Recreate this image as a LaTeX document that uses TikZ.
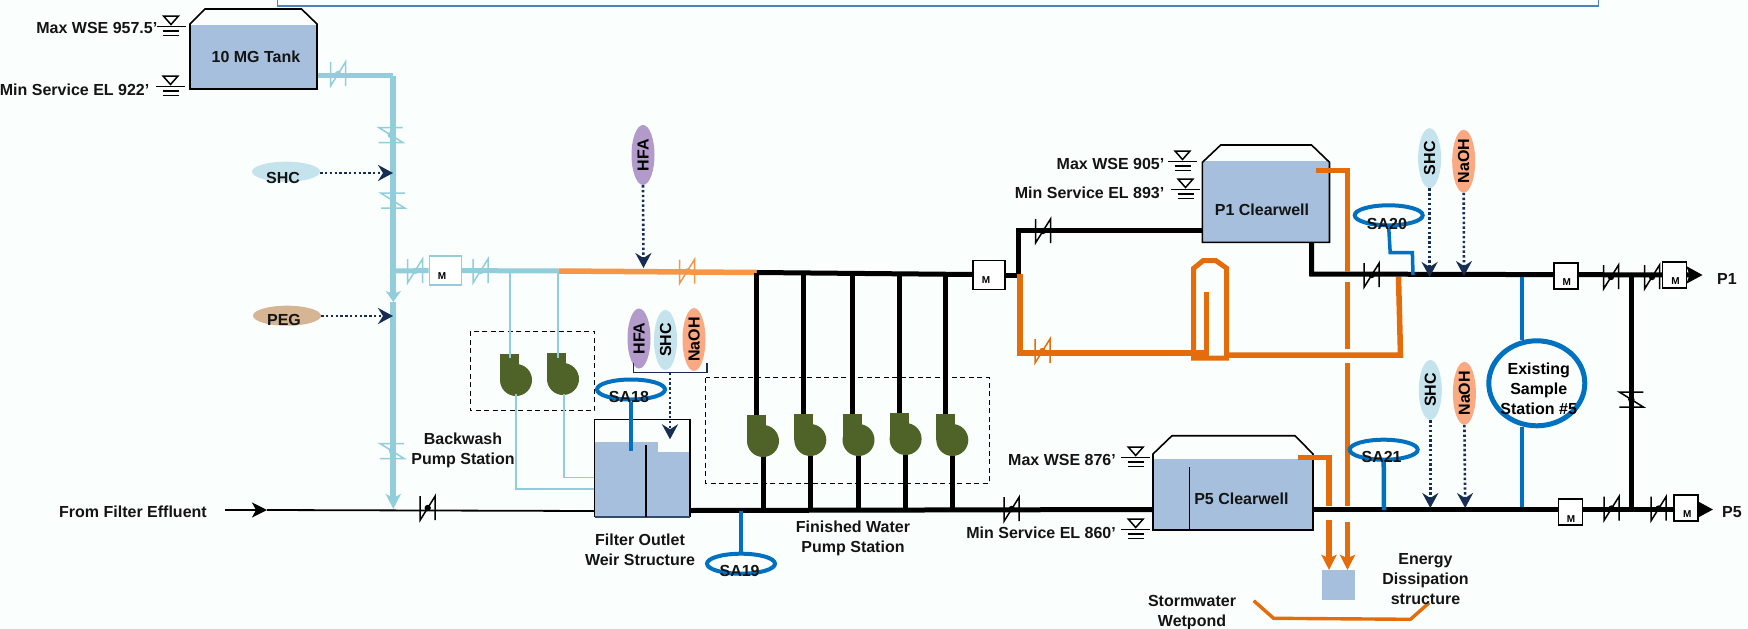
\documentclass[tikz,border=0pt]{standalone}
\usepackage{fontspec}
\setmainfont{Liberation Sans}
\usetikzlibrary{arrows.meta,shapes.geometric}
\definecolor{bgc}{HTML}{FAFFFD}
\definecolor{pipeb}{HTML}{92CDDC}
\definecolor{orl}{HTML}{F79646}
\definecolor{ord}{HTML}{E46C0A}
\definecolor{smp}{HTML}{0070C0}
\definecolor{pmp}{HTML}{4F6228}
\definecolor{wat}{HTML}{A5BFDD}
\definecolor{hfac}{HTML}{B29BCB}
\definecolor{shcc}{HTML}{C5E3EC}
\definecolor{naohc}{HTML}{FAA982}
\definecolor{pegc}{HTML}{D5B594}
\definecolor{navy}{HTML}{172E52}
\definecolor{frame}{HTML}{4F81BD}
\tikzset{
  txt/.style={font=\fontsize{16}{20}\selectfont\bfseries,align=center,inner sep=0pt,text=black!92},
  mtxt/.style={font=\fontsize{10}{10}\selectfont\bfseries,inner sep=0pt},
  mbk/.style={draw=black,fill=white,line width=1.5pt,minimum width=30pt,minimum height=27pt,inner sep=0pt},
  mlb/.style={draw=pipeb,fill=white,line width=1.5pt,minimum width=32pt,minimum height=29pt,inner sep=0pt},
  mnar/.style={draw=black,fill=white,line width=1.5pt,minimum width=24pt,minimum height=26pt,inner sep=0pt},
  lbpipe/.style={draw=pipeb,line width=5pt},
  lbthin/.style={draw=pipeb,line width=1.5pt},
  blk/.style={draw=black,line width=5pt},
  ora/.style={draw=ord,line width=5.5pt},
  orlp/.style={draw=orl,line width=5.5pt},
  smpl/.style={draw=smp,line width=4.5pt},
  chem/.style={ellipse,minimum width=#1,minimum height=23pt,inner sep=0pt,rotate=90,font=\fontsize{16}{18}\selectfont\bfseries},
  flat/.style={ellipse,minimum width=68pt,minimum height=20pt,inner sep=0pt},
  sa/.style={ellipse,draw=smp,line width=4pt,minimum width=68pt,minimum height=20pt,inner sep=0pt},
  feed/.style={draw=navy,line width=2.6pt,dash pattern=on 2.4pt off 2.4pt,-{Stealth[length=15pt,width=16pt,inset=5pt]}},
  dbox/.style={draw=black,line width=1pt,dash pattern=on 5pt off 3.5pt},
  wbox/.style={fill=wat,inner sep=0pt},
  tankline/.style={draw=black,line width=1.6pt},
  pics/valve/.style={code={
    \draw[#1,line width=1.5pt] (-7.5,-12)--(-7.5,12)--(7.5,-12)--(7.5,12);
    \fill[#1] (0,0) circle (3.2);}},
  pics/wlevel/.style={code={
    \draw[black,line width=1.5pt] (-7.5,0)--(7.5,0)--(0,8.5)--cycle;
    \draw[black,line width=1.5pt] (-14.5,10.7)--(14.5,10.7) (-8,15.2)--(8,15.2) (-8,19.7)--(8,19.7);}},
  pics/pump/.style={code={
    \fill[pmp] (0,0) rectangle (19,26);
    \fill[pmp] (16,26) circle (16);}}
}
\begin{document}
\begin{tikzpicture}[x=1pt,y=-1pt]
\useasboundingbox (0,0) rectangle (1748,629);
\fill[bgc] (0,0) rectangle (1748,629);
% frame at top, cut by the page
\coordinate (fa) at (277.5,0); \coordinate (fb) at (277.5,5.7);
\coordinate (fc) at (1598.6,5.7); \coordinate (fd) at (1598.6,0);
\draw[frame,line width=1.6pt] (fa)--(fb)--(fc)--(fd);

% junction coordinates
\coordinate (tkout) at (317,75.5);
\coordinate (tkc) at (393.3,75.5);
\coordinate (vmid) at (393.3,302);
\coordinate (vbot) at (393.3,509);
\coordinate (j1) at (393.3,271);
\coordinate (or1) at (558.6,271);
\coordinate (bl1) at (756.8,272.5);
\coordinate (bw1) at (510,271);
\coordinate (bw2) at (558,271);
\coordinate (in0) at (225,510);
\coordinate (in1) at (267,510);

% dashed pump station frames
\draw[dbox] (470,331.3) rectangle (594.8,410.7);
\draw[dbox] (705.6,377.7) rectangle (989,483.3);

% water level boxes
\node[wbox,minimum width=127pt,minimum height=64.5pt] (tank) at (253.5,57) {};
\node[wbox,minimum width=127pt,minimum height=81pt] (p1cw) at (1266,201.5) {};
\node[wbox,minimum width=160pt,minimum height=71pt] (p5cw) at (1233,494.5) {};
\node[wbox,minimum width=33pt,minimum height=30pt] (eds) at (1338.5,585) {};

% pipes: 10 MG tank system
\draw[lbpipe] (tkout)--(tkc);
\draw[draw=pipeb,line width=6pt,-{Stealth[length=11pt,width=15pt,inset=3pt]}] (tkc)--(vmid);
\draw[draw=pipeb,line width=6pt,-{Stealth[length=15pt,width=15pt,inset=4pt]}] (vmid)--(vbot);
\node[mlb] (mb1) at (445.4,270.6) {};
\draw[lbpipe] (j1)--(mb1.west);
\draw[lbpipe] (mb1.east)--(or1);
\draw[orlp] (or1)--(bl1);
\pic at (338,74) {valve=pipeb};
\pic[rotate=90] at (390.7,135) {valve=pipeb};
\pic[rotate=90] at (393,200.7) {valve=pipeb};
\pic[rotate=90] at (392,451) {valve=pipeb};
\pic at (415,271) {valve=pipeb};
\pic at (480.5,271) {valve=pipeb};
\pic at (687,271.5) {valve=orl};
\node[mtxt] (m1) at (442,276) {M};

% backwash connection
\coordinate (pu1) at (510,358); \coordinate (pu2) at (558,358);
\coordinate (pd1) at (516,394); \coordinate (pd2) at (563.8,394);
\coordinate (ws1) at (516,489); \coordinate (ws2) at (563.8,477.7);
\coordinate (wb1) at (594.5,489); \coordinate (wb2) at (594.5,477.7);
\pic at (500,354) {pump};
\pic at (547,353) {pump};
\draw[lbthin] (bw1)--(pu1);
\draw[lbthin] (bw2)--(pu2);
\draw[lbthin] (pd1)--(ws1)--(wb1);
\draw[lbthin] (pd2)--(ws2)--(wb2);

% weir structure
\node[wbox,minimum width=63.5pt,minimum height=74.7pt] (wl) at (626.2,479.4) {};
\node[wbox,minimum width=32.2pt,minimum height=64.7pt] (wr) at (674.1,484.4) {};
\draw[black,line width=1.6pt] (594.5,516.7)--(594.5,419.3)--(690.2,419.3)--(690.2,516.7);
\draw[navy!80!wat,line width=1.6pt] (594.5,516.7)--(690.2,516.7);
\coordinate (dv1) at (645.8,445); \coordinate (dv2) at (645.8,516.7);
\draw[black,line width=1.5pt] (dv1)--(dv2);

% influent
\draw[black,line width=1.8pt,-{Stealth[length=15pt,width=15pt,inset=4pt]}] (in0)--(in1);
\coordinate (in2) at (594.5,511);
\draw[black,line width=1.8pt] (in1)--(in2);
\pic at (427.7,508) {valve=black};

% finished water
\coordinate (hd0) at (690.2,510.5); \coordinate (hd1) at (1153,509.5);
\draw[blk] (hd0)--(hd1);
\coordinate (bl2) at (973,274.5); 
\draw[blk] (bl1)--(bl2);
\foreach \x/\t/\i in {747/415/1,794.3/414/2,842.5/414/3,889.6/413/4,936.3/414/5}{
  \coordinate (pt\i) at ({\x+9.5},273);
  \coordinate (pi\i) at ({\x+9.5},\t+3);
  \coordinate (po\i) at ({\x+16},\t+38);
  \coordinate (pb\i) at ({\x+16},510);
  \draw[blk] (pt\i)--(pi\i);
  \draw[blk] (po\i)--(pb\i);
  \pic at (\x,\t) {pump};
}
\pic at (1011.7,509) {valve=black};

\node[mbk,minimum width=32pt,minimum height=28.6pt] (mb2) at (989.2,275) {};
\node[mtxt] (m2) at (986,280) {M};
\coordinate (b3) at (1018.3,275); \coordinate (b4) at (1018.3,230.7);
\coordinate (p1in) at (1202.4,230.7);
\draw[blk] (mb2.east)--(b3)--(b4)--(p1in);
\pic at (1043,231) {valve=black};

% orange bypass around the clearwell
\coordinate (o0) at (1020,274); \coordinate (o1) at (1020,353);
\coordinate (o2) at (1206.5,353); \coordinate (o3) at (1206.5,292);
\draw[ora] (o0)--(o1)--(o2)--(o3);
\pic at (1042.5,351) {valve=ord};
\coordinate (lp1) at (1193.7,358); \coordinate (lp2) at (1193.7,268.3);
\coordinate (lp3) at (1203,260.7); \coordinate (lp4) at (1216,260.7);
\coordinate (lp5) at (1226.7,268.3); \coordinate (lp6) at (1226.7,358);
\draw[ord,line width=5pt] (lp1)--(lp2)--(lp3)--(lp4)--(lp5)--(lp6)--cycle;
\coordinate (o4) at (1226.7,355); \coordinate (o5) at (1400.5,355); \coordinate (o6) at (1398.5,276.7);
\draw[ora] (o4)--(o5)--(o6);

% P1 line
\coordinate (c1) at (1311.5,242.3); \coordinate (c2) at (1311.5,274);
\coordinate (c3) at (1702.6,275);
\coordinate (v1) at (1631.3,275); \coordinate (v2) at (1631.3,509.5);
\draw[black,line width=5pt,-{Stealth[length=16pt,width=17pt,inset=3pt]}] (c1)--(c2)--(c3);
\draw[blk] (v1)--(v2);
\pic[rotate=90] at (1631.3,399.5) {valve=black};
\pic at (1371.7,275) {valve=black};
\pic at (1611,277) {valve=black};
\pic at (1652,277) {valve=black};
\node[mnar] (mb3) at (1565.8,276) {};
\node[mnar] (mb4) at (1674.4,275) {};
\node[mtxt] at (1566.8,282.3) {M};
\node[mtxt] at (1675.6,281.3) {M};

% P5 line
\coordinate (c5) at (1313,509.5); \coordinate (c6) at (1713,509.5);
\draw[black,line width=5pt,-{Stealth[length=16pt,width=17pt,inset=3pt]}] (c5)--(c6);
\pic at (1611.5,508.5) {valve=black};
\pic at (1658.7,508.5) {valve=black};
\node[mnar] (mb5) at (1570.4,511.8) {};
\node[mnar] (mb6) at (1686,508) {};
\node[mtxt] at (1571,518.7) {M};
\node[mtxt] at (1687.2,514) {M};

% tank outlines
\draw[tankline] (190,89)--(190,24)--(205,9)--(301.5,9)--(317,24)--(317,89)--cycle;
\draw[tankline] (1202.4,242.3)--(1202.4,162.3)--(1220.7,145)--(1311.5,145)--(1329.5,162.3)--(1329.5,242.3)--cycle;
\draw[tankline] (1153,530)--(1153,454)--(1172,435.7)--(1295,435.7)--(1313,454)--(1313,530)--cycle;
\coordinate (dv3) at (1189.6,467.3); \coordinate (dv4) at (1189.6,530);
\draw[black,line width=1.5pt] (dv3)--(dv4);

% overflow pipes
\coordinate (q0) at (1315.6,170.7); \coordinate (q1) at (1347.5,170.7); \coordinate (q2) at (1347.5,271.7);
\coordinate (q3) at (1347.5,282.3); \coordinate (q4) at (1347.5,349.3);
\coordinate (q5) at (1347.5,363.3); \coordinate (q6) at (1347.5,506);
\coordinate (q7) at (1347.5,521.7); \coordinate (q8) at (1347.5,570);
\draw[ora] (q0)--(q1)--(q2);
\draw[ora] (q3)--(q4);
\draw[ora] (q5)--(q6);
\draw[ora,-{Stealth[length=15pt,width=15pt,inset=3pt]}] (q7)--(q8);
\coordinate (r0) at (1298,457.7); \coordinate (r1) at (1329,457.7); \coordinate (r2) at (1329,506);
\coordinate (r3) at (1329,520); \coordinate (r4) at (1329,570);
\draw[ora] (r0)--(r1)--(r2);
\draw[ora,-{Stealth[length=15pt,width=15pt,inset=3pt]}] (r3)--(r4);

% wetpond
\coordinate (wp1) at (1253.7,600.7); \coordinate (wp2) at (1273.6,618.3);
\coordinate (wp3) at (1410.5,619.3); \coordinate (wp4) at (1429.2,602.7);
\draw[ord,line width=3.4pt] (wp1)--(wp2)--(wp3)--(wp4);

% sample points
\node[sa] (sa18) at (631,389.5) {};
\coordinate (s18) at (631,450.7);
\draw[smpl] (sa18.south)--(s18);
\node[sa] (sa19) at (741,563.7) {};
\coordinate (s19) at (741,511);
\draw[smpl] (s19)--(sa19.north);
\node[sa] (sa20) at (1388.7,215.3) {};
\coordinate (s20a) at (1390.2,252.7); \coordinate (s20b) at (1412.4,252.7); \coordinate (s20c) at (1413,275);
\draw[draw=smp,line width=3.5pt] (sa20.south)--(s20a)--(s20b)--(s20c);
\node[sa] (sa21) at (1383.7,449.7) {};
\coordinate (s21) at (1384,510);
\draw[smpl] (sa21.south)--(s21);
\node[draw=smp,fill=bgc,line width=5pt,ellipse,minimum width=96pt,minimum height=85pt,inner sep=0pt] (ess) at (1536.8,383.3) {};
\coordinate (e1) at (1521.8,276.7); \coordinate (e2) at (1521.8,506.5);
\coordinate (e3) at (1521.8,340); \coordinate (e4) at (1521.8,427);
\draw[smpl] (e1)--(e3);
\draw[smpl] (e4)--(e2);

% chemical feeds
\node[flat,fill=shcc] (shc1) at (286,171.7) {};
\node[flat,fill=pegc] (peg) at (287,315.7) {};
\coordinate (sf) at (393,173); \coordinate (pf) at (393,316);
\draw[feed] (shc1.east|-sf)--(sf);
\draw[feed] (peg.east|-pf)--(pf);
\node[chem=60pt,fill=hfac] (hfa1) at (643,155) {HFA};
\coordinate (hf) at (643.5,268);
\draw[feed] (hfa1.west)--(hf);
\node[chem=60pt,fill=hfac] (hfa2) at (639,338.5) {HFA};
\node[chem=60pt,fill=shcc] (shc2) at (665.5,340) {SHC};
\node[chem=61pt,fill=naohc] (naoh1) at (694,339.5) {NaOH};
\coordinate (br0) at (633.6,363); \coordinate (br1) at (633.6,372.7);
\coordinate (br2) at (707,372.7); \coordinate (br3) at (707,363);
\coordinate (brm) at (670,372.7); \coordinate (brt) at (670,439.3);
\draw[navy,line width=1.5pt] (br0)--(br1)--(br2)--(br3);
\draw[feed] (brm)--(brt);
\node[chem=60pt,fill=shcc] (shc3) at (1429.6,158.2) {SHC};
\node[chem=61pt,fill=naohc] (naoh2) at (1463.7,161.2) {NaOH};
\node[chem=60pt,fill=shcc] (shc4) at (1430.3,390) {SHC};
\node[chem=60pt,fill=naohc] (naoh3) at (1464.4,393.3) {NaOH};
\coordinate (f1) at (1429.6,277); \coordinate (f2) at (1464,276);
\coordinate (f3) at (1430.3,508); \coordinate (f4) at (1465.2,508);
\draw[feed] (shc3.west)--(f1);
\draw[feed] (naoh2.west)--(f2);
\draw[feed] (shc4.west)--(f3);
\draw[feed] (naoh3.west)--(f4);

% water level symbols
\pic at (171,16) {wlevel};
\pic at (170.5,76) {wlevel};
\pic at (1182.5,151) {wlevel};
\pic at (1185.5,179) {wlevel};
\pic at (1135.7,447) {wlevel};
\pic at (1135.7,519) {wlevel};

% labels
\node[txt,anchor=east] (t1) at (157.5,28) {Max WSE 957.5’};
\node[txt,anchor=east] (t2) at (149.5,89.5) {Min Service EL 922’};
\node[txt] (t3) at (256,56.5) {10 MG Tank};
\node[txt] (t4) at (283,178) {SHC};
\node[txt] (t5) at (284,320) {PEG};
\node[txt] (t6) at (463,450) {Backwash\\Pump Station};
\node[txt] (t7) at (133,511.5) {From Filter Effluent};
\node[txt] (t8) at (640,550) {Filter Outlet\\Weir Structure};
\node[txt] (t9) at (853,538.7) {Finished Water\\Pump Station};
\node[txt] (t10) at (629,397) {SA18};
\node[txt] (t11) at (739.6,570.7) {SA19};
\node[txt] (t12) at (1386.9,223.7) {SA20};
\node[txt] (t13) at (1381.6,456.7) {SA21};
\node[txt,anchor=east] (t14) at (1164.5,164.3) {Max WSE 905’};
\node[txt,anchor=east] (t15) at (1164.5,192.3) {Min Service EL 893’};
\node[txt] (t16) at (1262,209.3) {P1 Clearwell};
\node[txt,anchor=east] (t17) at (1116,460) {Max WSE 876’};
\node[txt,anchor=east] (t18) at (1116,533) {Min Service EL 860’};
\node[txt] (t19) at (1241.4,498.3) {P5 Clearwell};
\node[txt,text=black] (t20) at (1538.7,388.7) {Existing\\Sample\\Station \#5};
\node[txt] (t21) at (1727,279) {P1};
\node[txt] (t22) at (1732,511.7) {P5};
\node[txt] (t23) at (1425.5,579.5) {Energy\\Dissipation\\structure};
\node[txt] (t24) at (1192,612.7) {Stormwater\\Wetpond};
\end{tikzpicture}
\end{document}
